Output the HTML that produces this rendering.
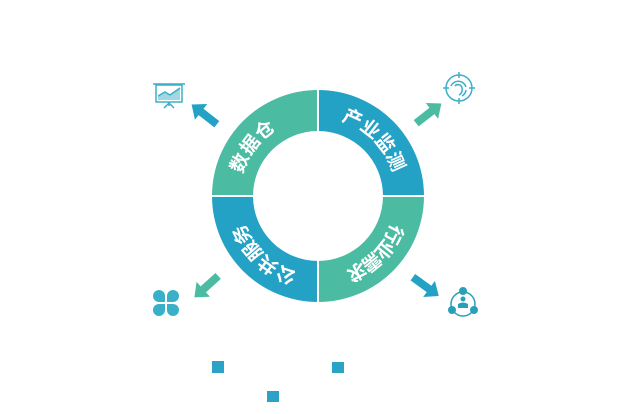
<!DOCTYPE html>
<html><head><meta charset="utf-8"><style>
html,body{margin:0;padding:0;background:#fff;}
svg{display:block;}
text{font-family:"Liberation Sans","Noto Sans CJK SC",sans-serif;font-weight:bold;}
</style></head><body>
<svg id="s" width="630" height="414" viewBox="0 0 630 414" xmlns="http://www.w3.org/2000/svg">
<g id="ring">
<path d="M318 90 A106 106 0 0 1 424 196 L383 196 A65 65 0 0 0 318 131 Z" fill="#24a2c6"/>
<path d="M424 196 A106 106 0 0 1 318 302 L318 261 A65 65 0 0 0 383 196 Z" fill="#4bbba2"/>
<path d="M318 302 A106 106 0 0 1 212 196 L253 196 A65 65 0 0 0 318 261 Z" fill="#24a2c6"/>
<path d="M212 196 A106 106 0 0 1 318 90 L318 131 A65 65 0 0 0 253 196 Z" fill="#4bbba2"/>
<line x1="318" y1="88" x2="318" y2="304" stroke="#fff" stroke-width="2"/>
<line x1="210" y1="196" x2="426" y2="196" stroke="#fff" stroke-width="2"/>
</g>
<g id="labels" fill="#fff" font-size="19"></g>
<g>
<g transform="translate(205,115) rotate(-142)"><path d="M-15 -4 L5 -4 L5 -10 L17 0 L5 10 L5 4 L-15 4 Z" fill="#24a2c6"/></g>
<g transform="translate(428,114) rotate(-38)"><path d="M-15 -4 L5 -4 L5 -10 L17 0 L5 10 L5 4 L-15 4 Z" fill="#4bbba2"/></g>
<g transform="translate(425,286) rotate(36)"><path d="M-15 -4 L5 -4 L5 -10 L17 0 L5 10 L5 4 L-15 4 Z" fill="#24a2c6"/></g>
<g transform="translate(207,286) rotate(138)"><path d="M-15 -4 L5 -4 L5 -10 L17 0 L5 10 L5 4 L-15 4 Z" fill="#4bbba2"/></g>
</g>
<g stroke="#3ab0c8" stroke-width="1.5" fill="none">
<line x1="153" y1="84" x2="185" y2="84"/>
<rect x="156" y="85" width="26" height="17"/>
<path d="M158 100 L158 96 L165 92 L170 95 L180 88 L180 100 Z" fill="#9fd7e3" stroke="none"/>
<polyline points="158,96 165,92 170,95 180,88"/>
<line x1="169" y1="102" x2="169" y2="106"/>
<line x1="169" y1="103" x2="164" y2="108"/>
<line x1="169" y1="103" x2="174" y2="108"/>
</g>
<g stroke="#3ab0c8" stroke-width="1.5" fill="none">
<circle cx="459" cy="88" r="13"/>
<line x1="459" y1="72" x2="459" y2="78"/><line x1="459" y1="98" x2="459" y2="104"/>
<line x1="443" y1="88" x2="449" y2="88"/><line x1="469" y1="88" x2="475" y2="88"/>
<path d="M451 86 A8 8 0 0 1 466 87"/>
<path d="M455 86 A4 4 0 0 1 462 88 A6 6 0 0 1 459 95"/>
<path d="M466 90 A8 8 0 0 1 462 96"/>
</g>
<g stroke="#2a9fb8" stroke-width="1.5" fill="none">
<circle cx="463" cy="304" r="12"/>
</g>
<g fill="#2a9fb8">
<circle cx="463" cy="291" r="4"/><circle cx="452" cy="310" r="4"/><circle cx="474" cy="310" r="4"/>
<circle cx="463" cy="299" r="2.5"/><path d="M458 308 L458 304 Q463 301 468 304 L468 308 Z"/>
</g>
<g fill="#3ab0c8">
<path d="M165 302 L165 296 A6 6 0 1 0 159 302 Z"/>
<path d="M167 302 L167 296 A6 6 0 1 1 173 302 Z"/>
<path d="M165 304 L165 310 A6 6 0 1 1 159 304 Z"/>
<path d="M167 304 L167 310 A6 6 0 1 0 173 304 Z"/>
</g>
<g fill="#2aa3c6">
<rect x="212" y="361" width="12" height="12"/>
<rect x="332" y="362" width="12" height="11"/>
<rect x="267" y="391" width="12" height="11"/>
</g>
</svg>
<script>
(function(){
var g=document.getElementById('labels');var cx=318,cy=196,r=84;
var sets=[["数据仓",[-67,-53,-39]],["产业监测",[24,38,52,66]],["行业需求",[117,129,141,153]],["公共服务",[202,216,230,243]]];
sets.forEach(function(s){
 for(var i=0;i<s[0].length;i++){var a=s[1][i]*Math.PI/180;
  var x=cx+r*Math.sin(a),y=cy-r*Math.cos(a);
  var t=document.createElementNS('http://www.w3.org/2000/svg','text');
  t.setAttribute('x',x);t.setAttribute('y',y);t.setAttribute('text-anchor','middle');t.setAttribute('dominant-baseline','central');
  t.setAttribute('transform','rotate('+s[1][i]+' '+x+' '+y+')');t.textContent=s[0][i];g.appendChild(t);}
});
})();
</script>
</body></html>
